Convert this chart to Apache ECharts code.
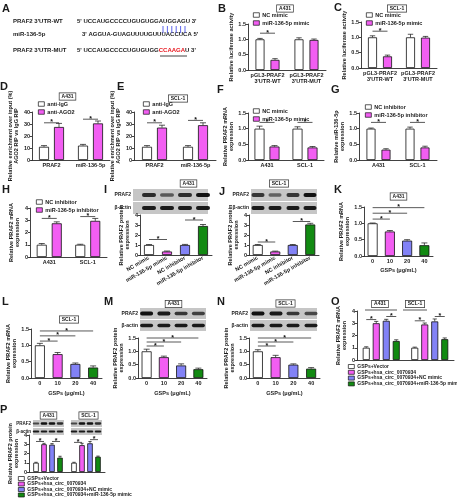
<!DOCTYPE html>
<html><head><meta charset="utf-8">
<script src="https://cdn.jsdelivr.net/npm/echarts@6/dist/echarts.min.js"></script>
<style>html,body{margin:0;padding:0;background:#fff}#c{width:457px;height:500px}</style>
</head><body><div id="c"></div>
<script>
// ---------- data ----------
const lucCats = ["pGL3-PRAF2\n3'UTR-WT", "pGL3-PRAF2\n3'UTR-MUT"];
const bNC = [1.0, 1.0], bNCErr = [0.03, 0.05];
const bMimic = [0.33, 0.98], bMimicErr = [0.04, 0.03];
const cNC = [1.0, 1.0], cNCErr = [0.05, 0.1];
const cMimic = [0.38, 0.99], cMimicErr = [0.04, 0.04];
const ripCats = ['PRAF2', 'miR-136-5p'];
const dIgG = [11, 12], dIgGErr = [1, 1];
const dAGO2 = [27.5, 30.5], dAGO2Err = [3, 2];
const eIgG = [11, 11], eIgGErr = [1, 1];
const eAGO2 = [27, 29], eAGO2Err = [2, 2];
const cellCats = ['A431', 'SCL-1'];
const fNC = [1.0, 1.0], fNCErr = [0.08, 0.06];
const fMimic = [0.43, 0.40], fMimicErr = [0.03, 0.03];
const gNC = [1.0, 1.0], gNCErr = [0.02, 0.05];
const gInh = [0.33, 0.40], gInhErr = [0.03, 0.04];
const hNC = [1.0, 1.0], hNCErr = [0.1, 0.04];
const hInh = [2.75, 2.95], hInhErr = [0.12, 0.2];
const blotCats = ['NC mimic', 'miR-136-5p mimic', 'NC inhibitor', 'miR-136-5p inhibitor'];
const iVals = [1.0, 0.35, 1.0, 2.9], iErr = [0.05, 0.05, 0.06, 0.15];
const jVals = [1.0, 0.35, 1.0, 3.05], jErr = [0.05, 0.04, 0.05, 0.12];
const doseCats = ['0', '10', '20', '40'];
const kVals = [1.0, 0.75, 0.47, 0.33], kErr = [0.01, 0.03, 0.03, 0.07];
const lVals = [1.0, 0.73, 0.43, 0.32], lErr = [0.06, 0.05, 0.03, 0.05];
const mVals = [1.0, 0.78, 0.47, 0.33], mErr = [0.08, 0.04, 0.06, 0.04];
const nVals = [1.0, 0.78, 0.50, 0.35], nErr = [0.06, 0.07, 0.03, 0.04];
const rescueNames = ['GSPs+Vector', 'GSPs+hsa_circ_0070934', 'GSPs+hsa_circ_0070934+NC mimic', 'GSPs+hsa_circ_0070934+miR-136-5p mimic'];
const oA431 = [1.0, 3.0, 3.2, 1.55], oA431Err = [0.08, 0.15, 0.12, 0.1];
const oSCL1 = [1.0, 2.9, 3.15, 1.7], oSCL1Err = [0.05, 0.12, 0.2, 0.1];
const pA431 = [1.0, 3.0, 2.95, 1.55], pA431Err = [0.05, 0.1, 0.12, 0.15];
const pSCL1 = [1.0, 2.9, 3.1, 1.65], pSCL1Err = [0.05, 0.2, 0.2, 0.07];

// ---------- style ----------
const FONT = '"Liberation Sans", Arial, sans-serif';
const TXT = '#1a1a1a';
const WHITE = '#ffffff', PINK = '#f25ef2', BLUE = '#8282f6', GREEN = '#128a12';
const FOUR = [WHITE, PINK, BLUE, GREEN];
const FS = 5.5;

const grids = [], xAxes = [], yAxes = [], series = [], legends = [], graphics = [];

function errRender(barW, gap, n) {
  return function (params, api) {
    const off = (api.value(1) - (n - 1) / 2) * (barW + gap);
    const p0 = api.coord([api.value(0), api.value(2)]);
    const p1 = api.coord([api.value(0), api.value(2) + api.value(3)]);
    const x = p0[0] + off, cw = Math.max(1.5, barW * 0.3);
    return { type: 'group', children: [
      { type: 'line', shape: { x1: x, y1: p0[1], x2: x, y2: p1[1] }, style: { stroke: '#111', lineWidth: 0.7 } },
      { type: 'line', shape: { x1: x - cw, y1: p1[1], x2: x + cw, y2: p1[1] }, style: { stroke: '#111', lineWidth: 0.7 } }
    ] };
  };
}
function sigRender(barW, gap, n) {
  return function (params, api) {
    const off = s => (s - (n - 1) / 2) * (barW + gap);
    const xa = api.coord([api.value(0), 0])[0] + off(api.value(1));
    const xb = api.coord([api.value(2), 0])[0] + off(api.value(3));
    const y = api.coord([api.value(0), api.value(4)])[1];
    return { type: 'group', children: [
      { type: 'line', shape: { x1: xa, y1: y, x2: xb, y2: y }, style: { stroke: '#111', lineWidth: 0.7 } },
      { type: 'text', x: (xa + xb) / 2, y: y - 0.3, style: { text: '*', fill: '#111', font: 'bold 7px ' + FONT, align: 'center', verticalAlign: 'middle' } }
    ] };
  };
}

function panel(p) {
  const gi = grids.length;
  grids.push({ left: p.left, top: p.top, width: p.width, height: p.height, containLabel: false });
  xAxes.push({
    type: 'category', gridIndex: gi, data: p.cats,
    axisLine: { lineStyle: { color: '#111', width: 0.8 } },
    axisTick: { alignWithLabel: true, length: 2, lineStyle: { color: '#111', width: 0.8 } },
    axisLabel: { show: p.showX !== false, fontSize: FS, fontWeight: 'bold', color: TXT, fontFamily: FONT,
      margin: p.xMargin || 2.5, rotate: p.rotate || 0, lineHeight: 6, interval: 0 },
    name: p.xName || '', nameLocation: 'middle', nameGap: p.xNameGap || 12,
    nameTextStyle: { fontSize: FS, fontWeight: 'bold', color: TXT, fontFamily: FONT }
  });
  yAxes.push({
    type: 'value', gridIndex: gi, min: 0, max: p.max, interval: p.interval,
    axisLine: { show: true, lineStyle: { color: '#111', width: 0.8 } },
    axisTick: { show: true, length: 2, lineStyle: { color: '#111', width: 0.8 } },
    splitLine: { show: false },
    axisLabel: { fontSize: FS, fontWeight: 'bold', color: TXT, fontFamily: FONT, margin: 2,
      formatter: v => p.dec ? v.toFixed(1) : String(v) },
    name: p.yName, nameLocation: 'middle', nameRotate: 90, nameGap: p.yNameGap || 11,
    nameTextStyle: { fontSize: FS, fontWeight: 'bold', color: TXT, fontFamily: FONT, lineHeight: 6.2 }
  });
  const n = p.groups.length;
  const errData = [];
  p.groups.forEach((g, si) => {
    series.push({
      type: 'bar', name: g.name || ('s' + gi + '_' + si), xAxisIndex: gi, yAxisIndex: gi,
      barWidth: p.barW, barGap: (p.gap / p.barW * 100) + '%',
      itemStyle: { color: g.color || WHITE, borderColor: '#111', borderWidth: 0.8 },
      data: g.values.map((v, k) => g.colors ? { value: v, itemStyle: { color: g.colors[k] } } : v),
      silent: true
    });
    g.values.forEach((v, k) => errData.push([k, si, v, g.errs[k]]));
  });
  series.push({ type: 'custom', xAxisIndex: gi, yAxisIndex: gi, data: errData,
    encode: { x: 0, y: 2 }, renderItem: errRender(p.barW, p.gap, n), z: 5, silent: true });
  if (p.sig) series.push({ type: 'custom', xAxisIndex: gi, yAxisIndex: gi, data: p.sig,
    encode: { x: 0, y: 4 }, renderItem: sigRender(p.barW, p.gap, n), z: 6, silent: true });
  if (p.legend) legends.push({
    data: p.legend.names, left: p.legend.left, top: p.legend.top, orient: 'vertical',
    height: p.legend.h || 40,
    itemWidth: p.legend.iw || 6, itemHeight: p.legend.ih || 4.5, itemGap: p.legend.gap || 2, padding: 0,
    selectedMode: false, icon: 'rect',
    itemStyle: { borderColor: '#111', borderWidth: 0.7 },
    textStyle: { fontSize: p.legend.fs || FS, fontWeight: 'bold', color: TXT, fontFamily: FONT,
      lineHeight: p.legend.lh || undefined, padding: [0, 0, 0, -2] }
  });
}

// ---------- panels ----------
panel({ left: 248, top: 24, width: 78, height: 46, cats: lucCats, max: 1.5, interval: 0.5, dec: true,
  yName: 'Relative luciferase activity', yNameGap: 12, barW: 9, gap: 6,
  groups: [{ name: 'NC mimic', color: WHITE, values: bNC, errs: bNCErr }, { name: 'miR-136-5p mimic', color: PINK, values: bMimic, errs: bMimicErr }],
  sig: [[0, 0, 0, 1, 1.2]], legend: { names: ['NC mimic', 'miR-136-5p mimic'], left: 253, top: 12 } });
panel({ left: 361, top: 22, width: 76, height: 46, cats: lucCats, max: 1.5, interval: 0.5, dec: true,
  yName: 'Relative luciferase activity', yNameGap: 12, barW: 9, gap: 6,
  groups: [{ name: 'NC mimic', color: WHITE, values: cNC, errs: cNCErr }, { name: 'miR-136-5p mimic', color: PINK, values: cMimic, errs: cMimicErr }],
  sig: [[0, 0, 0, 1, 1.2]], legend: { names: ['NC mimic', 'miR-136-5p mimic'], left: 366, top: 12 } });
panel({ left: 32, top: 112, width: 78, height: 48, cats: ripCats, max: 40, interval: 10,
  yName: 'Relative enrichment over input (%)\nAGO2 RIP vs IgG RIP', yNameGap: 9, barW: 10, gap: 5,
  groups: [{ name: 'anti-IgG', color: WHITE, values: dIgG, errs: dIgGErr }, { name: 'anti-AGO2', color: PINK, values: dAGO2, errs: dAGO2Err }],
  sig: [[0, 0, 0, 1, 31], [1, 0, 1, 1, 34]], legend: { names: ['anti-IgG', 'anti-AGO2'], left: 38, top: 101 } });
panel({ left: 134, top: 112, width: 82, height: 48, cats: ripCats, max: 40, interval: 10,
  yName: 'Relative enrichment over input (%)\nAGO2 RIP vs IgG RIP', yNameGap: 9, barW: 10, gap: 5,
  groups: [{ name: 'anti-IgG', color: WHITE, values: eIgG, errs: eIgGErr }, { name: 'anti-AGO2', color: PINK, values: eAGO2, errs: eAGO2Err }],
  sig: [[0, 0, 0, 1, 31], [1, 0, 1, 1, 33]], legend: { names: ['anti-IgG', 'anti-AGO2'], left: 143, top: 101 } });
panel({ left: 248, top: 113, width: 76, height: 47, cats: cellCats, max: 1.5, interval: 0.5, dec: true,
  yName: 'Relative PRAF2 mRNA\nexpression', yNameGap: 10, barW: 10, gap: 5,
  groups: [{ name: 'NC mimic', color: WHITE, values: fNC, errs: fNCErr }, { name: 'miR-136-5p mimic', color: PINK, values: fMimic, errs: fMimicErr }],
  sig: [[0, 0, 0, 1, 1.2], [1, 0, 1, 1, 1.2]], legend: { names: ['NC mimic', 'miR-136-5p mimic'], left: 253, top: 108 } });
panel({ left: 359, top: 113, width: 78, height: 47, cats: cellCats, max: 1.5, interval: 0.5, dec: true,
  yName: 'Relative miR-136-5p\nexpression', yNameGap: 10, barW: 9, gap: 6,
  groups: [{ name: 'NC inhibitor', color: WHITE, values: gNC, errs: gNCErr }, { name: 'miR-136-5p inhibitor', color: PINK, values: gInh, errs: gInhErr }],
  sig: [[0, 0, 0, 1, 1.2], [1, 0, 1, 1, 1.2]], legend: { names: ['NC inhibitor', 'miR-136-5p inhibitor'], left: 365, top: 104 } });
panel({ left: 30, top: 208, width: 77, height: 49, cats: cellCats, max: 4, interval: 1,
  yName: 'Relative PRAF2 mRNA\nexpression', yNameGap: 8, barW: 10, gap: 5,
  groups: [{ name: 'NC inhibitor', color: WHITE, values: hNC, errs: hNCErr }, { name: 'miR-136-5p inhibitor', color: PINK, values: hInh, errs: hInhErr }],
  sig: [[0, 0, 0, 1, 3.15], [1, 0, 1, 1, 3.3]], legend: { names: ['NC inhibitor', 'miR-136-5p inhibitor'], left: 36, top: 199 } });
panel({ left: 140, top: 215, width: 72, height: 40, cats: blotCats, max: 4, interval: 1, rotate: 30,
  yName: 'Relative PRAF2 protein\nexpression', yNameGap: 8, barW: 10, gap: 0,
  groups: [{ colors: FOUR, values: iVals, errs: iErr }],
  sig: [[0, 0, 1, 0, 1.55], [2, 0, 3, 0, 3.5]] });
panel({ left: 249, top: 215, width: 70, height: 40, cats: blotCats, max: 4, interval: 1, rotate: 30,
  yName: 'Relative PRAF2 protein\nexpression', yNameGap: 8, barW: 10, gap: 0,
  groups: [{ colors: FOUR, values: jVals, errs: jErr }],
  sig: [[0, 0, 1, 0, 1.3], [2, 0, 3, 0, 3.35]] });
panel({ left: 364, top: 207, width: 69, height: 49, cats: doseCats, max: 1.5, interval: 0.5, dec: true,
  yName: 'Relative PRAF2 mRNA\nexpression', yNameGap: 10, barW: 10, gap: 0, xName: 'GSPs (μg/mL)', xNameGap: 11,
  groups: [{ colors: FOUR, values: kVals, errs: kErr }],
  sig: [[0, 0, 1, 0, 1.13], [0, 0, 2, 0, 1.31], [0, 0, 3, 0, 1.48]] });
panel({ left: 31, top: 329, width: 71, height: 49, cats: doseCats, max: 1.5, interval: 0.5, dec: true,
  yName: 'Relative PRAF2 mRNA\nexpression', yNameGap: 10, barW: 10, gap: 0, xName: 'GSPs (μg/mL)', xNameGap: 12,
  groups: [{ colors: FOUR, values: lVals, errs: lErr }],
  sig: [[0, 0, 1, 0, 1.13], [0, 0, 2, 0, 1.29], [0, 0, 3, 0, 1.44]] });
panel({ left: 138, top: 338, width: 69, height: 40, cats: doseCats, max: 1.5, interval: 0.5, dec: true,
  yName: 'Relative PRAF2 protein\nexpression', yNameGap: 10, barW: 10, gap: 0, xName: 'GSPs (μg/mL)', xNameGap: 12,
  groups: [{ colors: FOUR, values: mVals, errs: mErr }],
  sig: [[0, 0, 1, 0, 1.2], [0, 0, 2, 0, 1.35], [0, 0, 3, 0, 1.5]] });
panel({ left: 249, top: 338, width: 71, height: 40, cats: doseCats, max: 1.5, interval: 0.5, dec: true,
  yName: 'Relative PRAF2 protein\nexpression', yNameGap: 10, barW: 10, gap: 0, xName: 'GSPs (μg/mL)', xNameGap: 12,
  groups: [{ colors: FOUR, values: nVals, errs: nErr }],
  sig: [[0, 0, 1, 0, 1.2], [0, 0, 2, 0, 1.35], [0, 0, 3, 0, 1.5]] });
panel({ left: 357, top: 311, width: 97, height: 49, cats: cellCats, max: 4, interval: 1, showX: false,
  yName: 'Relative PRAF2 mRNA\nexpression', yNameGap: 8, barW: 7, gap: 3,
  groups: rescueNames.map((nm, i) => ({ name: nm, color: FOUR[i], values: [oA431[i], oSCL1[i]], errs: [oA431Err[i], oSCL1Err[i]] })),
  sig: [[0, 0, 0, 1, 3.3], [0, 2, 0, 3, 3.55], [1, 0, 1, 1, 3.2], [1, 2, 1, 3, 3.55]],
  legend: { names: rescueNames, left: 348, top: 364, gap: 0.8, ih: 4, fs: 5, lh: 5 } });
panel({ left: 29, top: 435, width: 76, height: 37, cats: cellCats, max: 4, interval: 1, showX: false,
  yName: 'Relative PRAF2 protein\nexpression', yNameGap: 8, barW: 5.5, gap: 2.5,
  groups: rescueNames.map((nm, i) => ({ name: nm, color: FOUR[i], values: [pA431[i], pSCL1[i]], errs: [pA431Err[i], pSCL1Err[i]] })),
  sig: [[0, 0, 0, 1, 3.3], [0, 2, 0, 3, 3.3], [1, 0, 1, 1, 3.2], [1, 2, 1, 3, 3.5]],
  legend: { names: rescueNames, left: 18, top: 476, gap: 0.5, ih: 4, fs: 5, lh: 5, h: 30 } });

// ---------- decorations ----------
function txt(x, y, s, o) {
  o = o || {};
  graphics.push({ type: 'text', x: x, y: y, silent: true, style: Object.assign({
    text: s, fill: TXT, font: 'bold ' + (o.fs || 6) + 'px ' + FONT, align: o.align || 'left', verticalAlign: o.va || 'middle' }, o.style || {}) });
}
function letter(x, y, s) { txt(x, y, s, { fs: 11, va: 'top' }); }
function box(x, y, s) {
  graphics.push({ type: 'text', x: x, y: y, silent: true, z: 10, style: {
    text: s, fill: TXT, font: 'bold 5px ' + FONT, align: 'center', verticalAlign: 'middle',
    borderColor: '#333', borderWidth: 0.7, padding: [1, 2, 0.5, 2], backgroundColor: '#fff' } });
}
function line(x1, y1, x2, y2, c, w) {
  graphics.push({ type: 'line', silent: true, shape: { x1, y1, x2, y2 }, style: { stroke: c || '#111', lineWidth: w || 0.7 } });
}
function blot(x0, y0, w, rowH, lanes, bw, praf, labelX, fs) {
  [0, 1].forEach(r => {
    const yy = y0 + r * (rowH + 1);
    graphics.push({ type: 'rect', silent: true, shape: { x: x0, y: yy, width: w, height: rowH },
      style: { fill: '#c6c6c6' } });
    lanes.forEach((lx, i) => {
      const op = r === 0 ? praf[i] : 0.95;
      const bh = Math.max(2, rowH * 0.32 * (r === 0 ? (0.6 + praf[i] * 0.5) : 1));
      graphics.push({ type: 'rect', silent: true, shape: { x: lx - bw / 2, y: yy + rowH / 2 - bh / 2, width: bw, height: bh, r: bh / 2 },
        style: { fill: '#111', opacity: op } });
    });
  });
  if (labelX != null) {
    txt(labelX, y0 + rowH / 2, 'PRAF2', { fs: fs || 5, align: 'right' });
    txt(labelX, y0 + rowH * 1.5 + 1, 'β-actin', { fs: fs || 5, align: 'right' });
  }
}

// Panel A
txt(13, 21, "PRAF2 3'UTR-WT");
txt(13, 34, 'miR-136-5p');
txt(13, 50, "PRAF2 3'UTR-MUT");
txt(77, 21, "5' UCCAUGCCCCUGUGUGGAUGGAGU 3'");
txt(82, 34, "3' AGGUA-GUAGUUUUGUUUACCUCA 5'");
graphics.push({ type: 'text', x: 77, y: 50, silent: true, style: {
  text: "5' UCCAUGCCCCUGUGUGG{r|CCAAGA}U 3'", fill: TXT, font: 'bold 6px ' + FONT, verticalAlign: 'middle',
  rich: { r: { fill: '#e8141c', font: 'bold 6px ' + FONT } } } });
for (let i = 0; i < 6; i++) line(163 + i * 4.4, 26, 163 + i * 4.4, 33, '#4a52e8', 0.9);
line(160, 56, 187, 56, '#111', 0.8);

// letters
letter(2, 3, 'A'); letter(218, 3, 'B'); letter(334, 2, 'C');
letter(0, 81, 'D'); letter(117, 81, 'E'); letter(217, 84, 'F'); letter(331, 84, 'G');
letter(2, 184, 'H'); letter(104, 184, 'I'); letter(219, 186, 'J'); letter(334, 184, 'K');
letter(2, 296, 'L'); letter(104, 296, 'M'); letter(217, 296, 'N'); letter(331, 296, 'O');
letter(0, 404, 'P');

// boxes
box(285, 8.5, 'A431'); box(397, 8.5, 'SCL-1');
box(67.5, 96.5, 'A431'); box(178, 98.5, 'SCL-1');
box(188.5, 183.5, 'A431'); box(279, 183.5, 'SCL-1');
box(398.5, 196.5, 'A431'); box(69, 319.5, 'SCL-1');
box(173.5, 304, 'A431'); box(285.5, 303.5, 'SCL-1');
box(380, 304, 'A431'); box(415, 304, 'SCL-1');
box(48.5, 415.5, 'A431'); box(88.5, 415.5, 'SCL-1');
line(365, 310, 397, 310); line(403, 310, 427, 310);

// blots
blot(133, 189, 75, 12, [149, 167, 185, 203], 14, [0.85, 0.6, 0.85, 1], 131);
blot(251, 189, 66, 12, [258, 275, 293, 310], 13, [0.8, 0.55, 0.8, 1], 249);
blot(140, 308, 66, 11, [146.6, 163.9, 181.1, 198.4], 13, [1, 0.95, 0.8, 0.75], 138);
blot(250, 308, 67, 11, [258, 276, 293, 311], 13, [1, 0.95, 0.8, 0.7], 248);
blot(33, 420, 31, 7, [36, 44, 52, 60], 6.5, [0.7, 1, 1, 0.85], 31, 4.5);
blot(71, 420, 31, 7, [74, 82, 90, 98], 6.5, [0.7, 1, 1, 0.85], null);

const chart = echarts.init(document.getElementById('c'), null, { renderer: 'canvas' });
chart.setOption({
  animation: false, backgroundColor: '#fff',
  grid: grids, xAxis: xAxes, yAxis: yAxes, series: series, legend: legends, graphic: graphics
});
</script></body></html>
